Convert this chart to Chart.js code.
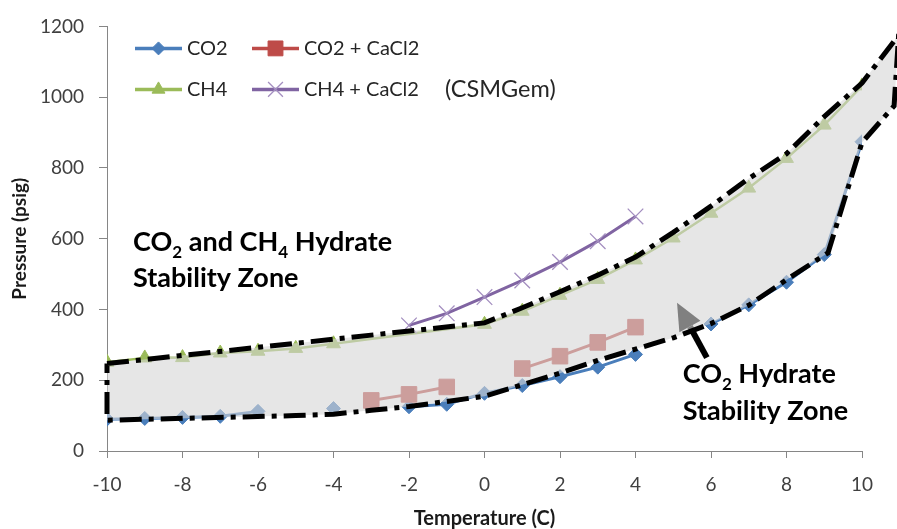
<!DOCTYPE html>
<html>
<head>
<meta charset="utf-8">
<script src="https://cdn.jsdelivr.net/npm/chart.js@4/dist/chart.umd.min.js"></script>
<style>
  html, body { margin: 0; padding: 0; background: #fff; }
  #wrap { width: 897px; height: 529px; position: relative; }
</style>
</head>
<body>
<div id="wrap"><canvas id="c" width="897" height="529"></canvas></div>
<script>
// Hydrate equilibrium curves, temperature (C) vs pressure (psig)
const tempCO2 = [-10, -9, -8, -7, -6, -5, -4, -3, -2, -1, 0, 1, 2, 3, 4, 5, 6, 7, 8, 9, 10];
const presCO2 = [90, 92, 95, 98, 112, null, 120, null, 125, 132, 163, 185, 210, 237, 273, null, 359, 413, 477, 555, 874];

const tempCO2CaCl2 = [-3, -2, -1, 0, 1, 2, 3, 4];
const presCO2CaCl2 = [143, 160, 181, null, 233, 268, 307, 350];

const tempCH4 = [-10, -9, -8, -7, -6, -5, -4, 0, 1, 2, 3, 4, 5, 6, 7, 8, 9, 10];
const presCH4 = [251, 263, 264, 277, 282, 290, 303, 358, 395, 440, 485, 540, 602, 672, 743, 827, 921, 1032];

const tempCH4CaCl2 = [-2, -1, 0, 1, 2, 3, 4];
const presCH4CaCl2 = [355, 389, 435, 482, 534, 593, 663];

// Outline of the CO2 hydrate stability zone (upper and lower edges)
const zoneUpperT = [-10, 0, 1, 2, 3, 4, 5, 6, 7, 8, 9, 10, 10.97];
const zoneUpperP = [247, 362, 405, 450, 497, 548, 618, 692, 770, 840, 945, 1040, 1175];
const zoneLowerT = [-10, -5, -4, -3, -2, -1, 0, 1, 2, 3, 4, 5, 6, 7, 8, 9.1, 10, 10.85];
const zoneLowerP = [87, 100, 104, 115, 126, 140, 155, 187, 220, 256, 288, 320, 360, 412, 484, 560, 872, 975];

// Axis ticks
const tempTicks = { min: -10, max: 10, step: 2 };
const presTicks = { min: 0, max: 1200, step: 200 };

// Annotation anchors (data coordinates)
const labelBothZone = { t: -9.31, p: 565 };
const labelCO2Zone = { t: 5.25, p: 191 };
const arrowTail = { t: 5.89, p: 264 };
const arrowTip = { t: 5.10, p: 419 };

const pairs = (xs, ys) => xs.map((x, i) => ({ x: x, y: ys[i] }));

// closed outline: upper edge left->right, lower edge right->left, back to start
const zoneOutline = pairs(zoneUpperT, zoneUpperP)
  .concat(pairs(zoneLowerT, zoneLowerP).reverse())
  .concat([{ x: zoneUpperT[0], y: zoneUpperP[0] }]);

const FONT = 'Lato, "Open Sans", sans-serif';
Chart.defaults.font.family = FONT;

const datasets = [
  {
    label: 'CO2', data: pairs(tempCO2, presCO2), order: 4,
    showLine: true, borderColor: '#4a7ebb', borderWidth: 3,
    pointStyle: 'rectRot', pointRadius: 7, pointBackgroundColor: '#4a7ebb',
    pointBorderColor: '#4a7ebb', pointBorderWidth: 1
  },
  {
    label: 'CO2 + CaCl2', data: pairs(tempCO2CaCl2, presCO2CaCl2), order: 3,
    showLine: true, borderColor: '#be4b48', borderWidth: 3,
    pointStyle: 'rect', pointRadius: 11, pointBackgroundColor: '#be4b48',
    pointBorderColor: '#be4b48', pointBorderWidth: 1
  },
  {
    label: 'CH4', data: pairs(tempCH4, presCH4), order: 2,
    showLine: true, borderColor: '#9bbb59', borderWidth: 2.5,
    pointStyle: 'triangle', pointRadius: 8, pointBackgroundColor: '#9bbb59',
    pointBorderColor: '#9bbb59', pointBorderWidth: 1
  },
  {
    label: 'CH4 + CaCl2', data: pairs(tempCH4CaCl2, presCH4CaCl2), order: 1,
    showLine: true, borderColor: '#8064a2', borderWidth: 3,
    pointStyle: 'crossRot', pointRadius: 11, pointBackgroundColor: '#8064a2',
    pointBorderColor: '#a48fc0', pointBorderWidth: 1.3
  },
  {
    label: 'zone', data: zoneOutline, order: 0, clip: false,
    showLine: true, borderColor: '#000', borderWidth: 5,
    borderDash: [22, 7, 5, 7], borderCapStyle: 'butt', borderJoinStyle: 'miter',
    pointRadius: 0, fill: false, tension: 0,
    zoneFill: 'rgba(213,213,213,0.6)'
  }
];

function drawRich(ctx, parts, x, y, size) {
  let cx = x;
  for (const p of parts) {
    if (p.sub) {
      ctx.font = 'bold ' + Math.round(size * 0.64) + 'px ' + FONT;
      ctx.fillText(p.t, cx, y + size * 0.24);
    } else {
      ctx.font = 'bold ' + size + 'px ' + FONT;
      ctx.fillText(p.t, cx, y);
    }
    cx += ctx.measureText(p.t).width;
  }
}

const notes = {
  id: 'zoneNotes',
  beforeDatasetsDraw(chart) {
    // pointer arrow towards the CO2 zone
    const { ctx } = chart;
    const xs = chart.scales.x, ys = chart.scales.y;
    const tx = xs.getPixelForValue(arrowTail.t), ty = ys.getPixelForValue(arrowTail.p);
    const hx = xs.getPixelForValue(arrowTip.t), hy = ys.getPixelForValue(arrowTip.p);
    const a = Math.atan2(hy - ty, hx - tx);
    const len = 27, half = 12;
    const bx = hx - len * Math.cos(a), by = hy - len * Math.sin(a);
    ctx.save();
    ctx.strokeStyle = '#000';
    ctx.fillStyle = '#000';
    ctx.lineWidth = 6;
    ctx.beginPath();
    ctx.moveTo(tx, ty);
    ctx.lineTo(bx, by);
    ctx.stroke();
    ctx.beginPath();
    ctx.moveTo(hx, hy);
    ctx.lineTo(bx + half * Math.sin(a), by - half * Math.cos(a));
    ctx.lineTo(bx - half * Math.sin(a), by + half * Math.cos(a));
    ctx.closePath();
    ctx.fill();
    ctx.restore();
  },
  beforeDatasetDraw(chart, args) {
    const ds = chart.data.datasets[args.index];
    if (!ds.zoneFill) return;
    const pts = args.meta.data;
    const { ctx } = chart;
    ctx.save();
    ctx.fillStyle = ds.zoneFill;
    ctx.beginPath();
    pts.forEach((p, i) => (i ? ctx.lineTo(p.x, p.y) : ctx.moveTo(p.x, p.y)));
    ctx.closePath();
    ctx.fill();
    ctx.restore();
  },
  afterDraw(chart) {
    const { ctx, chartArea } = chart;
    const xs = chart.scales.x, ys = chart.scales.y;
    ctx.save();

    // legend
    const L = chartArea.left, T = chartArea.top;
    const cols = [L + 28, L + 145];
    const rows = [T + 22, T + 63];
    const spots = [[0, 0], [1, 0], [0, 1], [1, 1]];
    spots.forEach(([c, r], i) => {
      const ds = chart.data.datasets[i];
      const x0 = cols[c], y0 = rows[r], w = 47;
      ctx.strokeStyle = ds.borderColor;
      ctx.lineWidth = 3.5;
      ctx.setLineDash([]);
      ctx.beginPath();
      ctx.moveTo(x0, y0);
      ctx.lineTo(x0 + w, y0);
      ctx.stroke();
      ctx.fillStyle = ds.pointBackgroundColor;
      ctx.strokeStyle = ds.pointBorderColor;
      ctx.lineWidth = ds.pointBorderWidth;
      Chart.helpers.drawPoint(ctx, {
        pointStyle: ds.pointStyle, rotation: 0,
        radius: ds.pointStyle === 'rect' ? 10.5 : ds.pointRadius - 0.5,
        borderWidth: ds.pointBorderWidth
      }, x0 + w / 2, y0);
      ctx.fillStyle = '#262626';
      ctx.font = '20px ' + FONT;
      ctx.textBaseline = 'middle';
      ctx.textAlign = 'left';
      ctx.fillText(ds.label, x0 + w + 5, y0);
    });
    ctx.font = '23.5px ' + FONT;
    ctx.fillText('(CSMGem)', L + 338, rows[1]);

    // zone labels
    ctx.fillStyle = '#000';
    ctx.textBaseline = 'alphabetic';
    const size = 27;
    let x = xs.getPixelForValue(labelBothZone.t), y = ys.getPixelForValue(labelBothZone.p);
    drawRich(ctx, [{ t: 'CO' }, { t: '2', sub: true }, { t: ' and CH' }, { t: '4', sub: true }, { t: ' Hydrate' }], x, y, size);
    drawRich(ctx, [{ t: 'Stability Zone' }], x, y + 36, size);
    x = xs.getPixelForValue(labelCO2Zone.t); y = ys.getPixelForValue(labelCO2Zone.p);
    drawRich(ctx, [{ t: 'CO' }, { t: '2', sub: true }, { t: ' Hydrate' }], x, y, size);
    drawRich(ctx, [{ t: 'Stability Zone' }], x, y + 37, size);
    ctx.restore();
  }
};

new Chart(document.getElementById('c'), {
  type: 'scatter',
  data: { datasets },
  options: {
    responsive: false,
    animation: false,
    events: [],
    layout: { padding: { top: 24, right: 35, left: 0, bottom: 0 } },
    plugins: { legend: { display: false }, tooltip: { enabled: false } },
    scales: {
      x: {
        type: 'linear', min: tempTicks.min, max: tempTicks.max,
        afterFit: (s) => { s.height = 78; },
        ticks: { stepSize: tempTicks.step, color: '#404040', font: { size: 19 }, padding: 15,
                 callback: (v) => String(v) },
        grid: { drawOnChartArea: false, color: '#868686', tickLength: 7 },
        border: { color: '#868686', width: 1 },
        title: { display: true, text: 'Temperature (C)', color: '#1a1a1a',
                 font: { size: 20, weight: 'bold', lineHeight: 1 }, padding: { top: 0, bottom: 0 } }
      },
      y: {
        type: 'linear', min: presTicks.min, max: presTicks.max,
        afterFit: (s) => { s.width = 107; },
        ticks: { stepSize: presTicks.step, color: '#404040', font: { size: 19 }, padding: 15,
                 callback: (v) => String(v) },
        grid: { drawOnChartArea: false, color: '#868686', tickLength: 8 },
        border: { color: '#868686', width: 1 },
        title: { display: true, text: 'Pressure (psig)', color: '#1a1a1a',
                 font: { size: 19, weight: 'bold', lineHeight: 1 }, padding: { top: 10, bottom: 0 } }
      }
    }
  },
  plugins: [notes]
});
</script>
</body>
</html>
